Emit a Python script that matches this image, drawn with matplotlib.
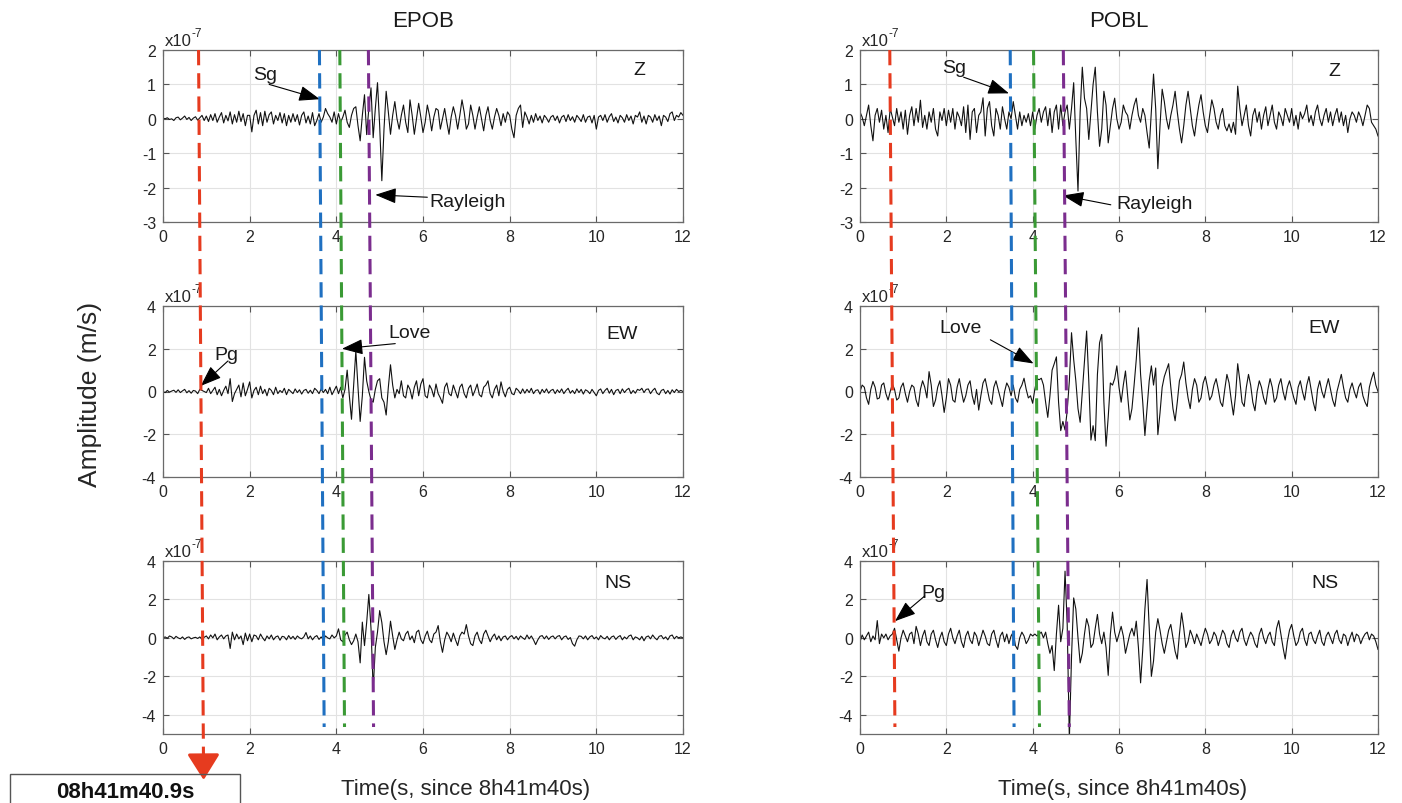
import numpy as np
import matplotlib
matplotlib.use('Agg')
from matplotlib import pyplot as plt
from matplotlib.lines import Line2D
from matplotlib.patches import Rectangle, FancyArrowPatch

plt.rcParams['font.family'] = ['Liberation Sans', 'DejaVu Sans']
plt.rcParams['axes.unicode_minus'] = False

# velocity traces, units of 1e-7 m/s, sampled every 0.05 s from 0 to 12 s
# one line per second
epob_z = [
    0.02, 0.0, 0.03, -0.02, 0.0, -0.05, 0.03, 0.05, -0.03, 0.02, 0.08, -0.02, 0.04, -0.05, 0.02, 0.06, -0.04, 0.03, 0.1, -0.05,
    0.08, -0.08, 0.12, -0.05, 0.15, -0.1, 0.05, 0.18, -0.12, 0.1, -0.06, 0.2, -0.15, 0.12, -0.1, 0.22, -0.08, 0.15, -0.2, 0.1,
    0.1, -0.38, 0.1, 0.25, -0.15, 0.18, -0.2, 0.22, -0.1, 0.12, 0.2, -0.15, 0.1, -0.05, 0.18, -0.12, 0.15, -0.2, 0.1, -0.1,
    0.15, -0.08, 0.12, -0.18, 0.1, 0.2, -0.12, 0.08, -0.15, 0.18, -0.2, -0.05, 0.15, -0.1, 0.05, 0.3, 0.15, 0.05, -0.1, 0.2,
    -0.15, 0.15, -0.1, 0.05, 0.25, -0.1, -0.25, 0.1, 0.3, 0.35, -0.2, -0.64, 0.1, 0.7, -0.46, 0.3, 0.9, -0.55, 0.3, 1.05,
    -0.2, -1.8, -0.3, 0.8, 0.2, -0.45, 0.1, 0.5, 0.0, -0.3, 0.1, 0.4, -0.1, -0.4, 0.55, 0.1, -0.45, 0.0, 0.45, 0.05,
    -0.4, -0.1, 0.4, 0.1, -0.35, 0.05, 0.3, 0.25, -0.3, 0.0, 0.3, -0.1, -0.45, 0.05, 0.35, 0.1, -0.3, 0.1, 0.55, 0.2,
    -0.3, -0.15, 0.4, 0.1, -0.3, 0.05, 0.35, 0.0, -0.35, 0.1, 0.35, -0.05, -0.3, 0.05, 0.3, 0.1, -0.2, 0.15, -0.1, 0.2,
    0.1, -0.3, -0.55, 0.1, 0.3, 0.4, -0.25, 0.2, 0.05, -0.15, 0.1, -0.1, 0.15, -0.05, 0.08, -0.12, 0.1, 0.02, -0.1, 0.05,
    0.1, -0.05, 0.08, -0.12, 0.05, 0.1, -0.08, 0.12, -0.05, 0.06, -0.1, 0.1, 0.02, -0.08, 0.12, -0.1, 0.05, 0.08, -0.12, 0.1,
    -0.3, 0.05, 0.1, -0.05, 0.12, -0.1, 0.06, 0.15, -0.08, 0.05, -0.12, 0.1, 0.03, -0.1, 0.12, -0.05, 0.08, -0.15, 0.1, 0.05,
    0.2, -0.1, 0.08, -0.15, 0.1, 0.05, -0.1, 0.12, -0.05, 0.08, -0.2, 0.1, 0.05, -0.08, 0.15, 0.2, -0.05, 0.1, 0.05, 0.18,
    0.1]

epob_ew = [
    0.0, -0.05, 0.05, -0.03, 0.02, 0.06, -0.04, 0.08, -0.05, 0.03, 0.1, -0.06, 0.04, -0.08, 0.05, 0.02, -0.1, 0.1, 0.05, 0.0,
    -0.05, 0.15, -0.1, 0.05, 0.2, -0.15, 0.1, -0.2, 0.05, 0.25, -0.1, 0.6, -0.47, -0.1, 0.1, 0.3, -0.25, 0.4, -0.2, 0.1,
    0.45, -0.3, 0.05, 0.2, -0.15, 0.25, -0.1, 0.1, -0.2, 0.15, 0.05, -0.15, 0.2, -0.1, 0.05, -0.05, 0.15, -0.15, 0.1, 0.0,
    -0.1, 0.12, -0.05, 0.08, -0.12, 0.05, 0.1, -0.08, 0.06, -0.1, 0.15, 0.05, -0.1, 0.12, -0.05, 0.1, -0.1, 0.2, -0.15, 0.05,
    0.25, -0.1, 0.2, -0.3, 0.1, 1.0, -0.2, -1.3, 0.3, 1.9, 0.2, -1.4, -0.2, 1.6, 0.5, 0.0, -0.4, -0.5, 0.1, 0.5,
    0.6, -0.3, -0.5, -1.1, 0.2, 1.25, 0.3, -0.3, 0.1, -0.1, 0.5, -0.2, -0.3, 0.3, 0.1, -0.35, 0.2, 0.5, -0.2, 0.35,
    0.6, -0.2, -0.3, 0.3, 0.1, -0.25, 0.35, -0.1, -0.3, -0.55, 0.2, 0.4, -0.1, -0.2, 0.3, 0.0, -0.3, 0.2, 0.35, -0.1,
    -0.3, 0.15, 0.3, -0.2, 0.05, 0.35, -0.15, -0.25, 0.2, 0.3, 0.5, -0.1, -0.3, 0.1, 0.3, -0.2, 0.45, 0.0, -0.25, 0.1,
    0.2, -0.1, -0.15, 0.15, 0.05, -0.1, 0.12, -0.08, 0.1, -0.05, 0.15, -0.1, 0.05, 0.08, -0.12, 0.1, -0.05, 0.12, -0.08, 0.05,
    0.1, -0.1, 0.08, -0.05, 0.12, -0.1, 0.05, 0.15, -0.08, 0.05, -0.1, 0.12, -0.05, 0.1, -0.12, 0.08, 0.02, -0.1, 0.1, -0.05,
    -0.2, 0.05, 0.12, -0.1, 0.05, 0.15, -0.08, 0.1, -0.15, 0.05, 0.1, -0.1, 0.12, -0.05, 0.08, 0.15, -0.1, 0.05, -0.08, 0.1,
    0.05, 0.15, -0.05, 0.1, 0.12, -0.1, 0.05, 0.15, -0.08, -0.15, 0.05, 0.1, -0.1, 0.05, -0.12, 0.08, -0.05, 0.1, 0.0, 0.05,
    0.0]

epob_ns = [
    0.0, 0.05, -0.02, 0.1, 0.05, -0.05, 0.08, 0.0, -0.05, 0.05, -0.08, 0.02, 0.05, -0.05, 0.0, 0.03, -0.03, 0.05, -0.08, 0.03,
    0.1, -0.05, 0.15, 0.0, 0.2, -0.1, 0.05, 0.15, -0.05, 0.1, 0.15, -0.55, 0.3, -0.1, 0.2, -0.05, 0.1, -0.35, 0.25, -0.15,
    0.2, -0.2, 0.15, 0.1, -0.1, 0.2, 0.0, -0.15, 0.1, -0.05, 0.15, -0.1, 0.05, 0.1, -0.12, 0.08, 0.05, -0.1, 0.12, -0.05,
    0.08, -0.08, 0.1, 0.0, -0.05, 0.05, 0.28, -0.05, 0.1, -0.1, 0.05, 0.12, -0.08, 0.05, -0.1, 0.1, 0.0, -0.05, 0.15, 0.0,
    0.1, 0.47, -0.1, -0.2, 0.15, 0.3, -0.1, -0.35, -0.15, 0.2, -0.2, -1.3, 0.82, -0.4, 0.8, 2.26, 0.5, -2.66, -0.5, 0.3,
    1.42, 0.8, -0.2, -0.87, -0.2, 0.87, 0.1, -0.6, -0.1, 0.3, -0.05, -0.15, 0.2, 0.35, -0.1, 0.1, -0.25, 0.3, 0.4, -0.1,
    -0.3, 0.1, 0.35, -0.1, -0.25, 0.2, 0.3, 0.64, -0.2, -0.75, -0.1, 0.3, 0.1, -0.2, 0.25, -0.1, -0.4, 0.1, 0.3, 0.2,
    0.69, 0.1, -0.3, -0.4, 0.1, 0.3, -0.1, -0.3, 0.2, 0.4, 0.1, -0.2, 0.05, 0.2, -0.1, 0.1, -0.15, 0.05, 0.1, -0.1,
    0.05, 0.12, -0.05, 0.08, -0.1, 0.1, 0.0, -0.08, 0.15, -0.05, 0.1, -0.1, -0.35, -0.1, 0.08, 0.12, -0.05, 0.1, -0.08, 0.05,
    0.1, -0.05, 0.08, 0.12, -0.1, 0.05, 0.1, -0.08, 0.02, -0.3, -0.43, -0.1, 0.1, 0.08, -0.05, 0.1, -0.1, 0.05, 0.12, -0.05,
    0.05, -0.1, 0.12, 0.0, -0.05, 0.08, -0.1, 0.05, 0.1, -0.08, 0.05, 0.12, -0.1, 0.05, -0.05, 0.1, 0.15, -0.1, 0.05, 0.0,
    -0.1, 0.08, -0.15, 0.05, 0.1, -0.05, 0.15, 0.0, -0.1, 0.08, 0.12, -0.05, 0.05, -0.1, 0.1, 0.15, -0.05, 0.08, 0.0, 0.05,
    0.0]

pobl_z = [
    0.2, 0.05, -0.2, 0.1, 0.4, -0.2, -0.64, 0.1, 0.3, -0.1, 0.25, -0.3, 0.1, -0.4, 0.3, 0.05, -0.2, 0.3, -0.1, 0.2,
    -0.3, 0.25, -0.45, 0.1, 0.35, -0.2, 0.3, -0.1, 0.54, -0.25, 0.1, -0.3, 0.2, -0.1, 0.3, -0.3, -0.5, 0.2, -0.05, 0.3,
    -0.2, 0.25, -0.1, 0.3, -0.3, 0.2, 0.05, -0.2, 0.35, -0.4, 0.4, -0.6, 0.2, 0.3, -0.4, 0.1, 0.2, 0.61, -0.5, 0.3,
    0.5, -0.2, -0.5, 0.3, 0.1, -0.3, 0.35, 0.0, -0.3, 0.2, 0.0, 0.5, 0.1, -0.3, 0.2, -0.2, 0.1, -0.1, 0.15, -0.2,
    0.2, -0.3, 0.1, 0.3, -0.1, 0.2, 0.35, -0.2, 0.3, -0.4, 0.2, 0.4, -0.3, 0.4, -0.2, 0.2, 0.4, -0.3, 0.3, 1.05,
    -0.6, -2.1, 0.2, 1.5, 0.6, 0.3, -0.6, 0.2, 1.0, 1.5, 0.2, -0.8, -0.3, 0.8, 0.4, -0.7, -0.2, 0.3, 0.6, 0.0,
    -0.3, -0.1, 0.4, 0.2, 0.1, -0.3, 0.1, 0.4, 0.6, 0.1, -0.1, 0.3, 0.1, -0.4, -0.85, 0.2, 1.3, 0.3, -1.45, -0.2,
    0.86, 0.5, 0.0, -0.3, 0.1, 0.4, 0.8, 0.2, -0.3, -0.7, -0.2, 0.4, 0.8, 0.3, -0.2, -0.5, 0.0, 0.4, 0.7, 0.2,
    -0.2, -0.4, 0.1, 0.55, 0.3, -0.1, -0.3, 0.1, 0.3, -0.2, -0.35, -0.15, -0.4, -0.1, -0.45, 0.95, 0.3, -0.2, 0.1, 0.4,
    -0.2, -0.5, 0.1, 0.3, -0.1, 0.2, -0.3, 0.1, 0.35, -0.2, 0.1, 0.4, -0.1, -0.3, 0.2, 0.05, -0.2, 0.3, 0.1, -0.1,
    0.3, -0.2, 0.1, -0.3, 0.2, 0.0, 0.15, 0.4, -0.1, 0.1, -0.2, 0.2, 0.4, 0.0, -0.2, 0.1, 0.3, -0.1, 0.2, -0.2,
    0.1, 0.3, -0.1, 0.2, -0.2, 0.1, -0.4, 0.0, 0.2, 0.1, -0.1, 0.2, 0.05, -0.2, 0.1, 0.4, 0.3, -0.1, -0.2, -0.3,
    -0.5]

pobl_ew = [
    0.0, 0.3, 0.2, -0.3, -0.6, 0.1, 0.47, 0.2, -0.35, -0.3, 0.3, 0.4, -0.1, -0.4, 0.0, 0.35, 0.1, -0.4, -0.3, 0.2,
    0.4, -0.1, -0.5, 0.0, 0.3, 0.2, -0.4, -0.7, 0.1, 0.5, 0.2, -0.3, 0.93, 0.3, -0.7, -0.4, 0.2, 0.5, -0.2, -0.98,
    -0.3, 0.6, 0.3, -0.4, -0.5, 0.2, 0.6, 0.0, -0.5, -0.2, 0.3, 0.5, -0.2, -0.6, 0.1, -0.87, -0.2, 0.4, 0.6, 0.1,
    -0.4, -0.6, 0.2, 0.5, 0.1, -0.3, -0.7, 0.0, 0.4, 0.2, -0.2, 0.3, -0.3, -0.5, 0.1, 0.3, 0.62, 0.1, -0.3, -0.2,
    -0.55, 0.1, 0.6, 0.55, 0.62, 0.3, -0.5, -1.21, -0.2, 1.0, 1.3, 1.62, -0.5, -1.83, -1.4, -1.8, -0.9, 0.5, 2.75, 1.5,
    0.5, -0.8, -1.44, 0.0, 1.5, 2.83, 0.5, -2.27, -1.6, -2.3, 0.8, 2.28, 2.67, -0.5, -2.56, -1.2, 0.4, 0.3, 0.6, 1.2,
    0.2, -0.5, 0.3, 0.96, -0.2, -1.33, -0.8, 0.3, 1.5, 2.98, 0.8, -0.5, -2.06, -0.8, 0.5, 1.2, 0.3, 1.1, -2.02, -1.0,
    0.2, 0.7, 1.0, 1.3, 0.2, -0.8, -1.37, -0.5, 0.5, 0.8, 1.38, 0.4, -0.3, -0.8, 0.1, 0.6, 0.3, -0.5, -0.3, 0.4,
    0.7, 0.2, -0.4, -0.2, 0.3, 0.6, 0.1, -0.5, -0.7, 0.1, 0.8, 0.4, -0.4, -1.1, -0.2, 1.3, 0.5, -0.5, -0.7, 0.2,
    0.8, 0.3, -0.5, -0.9, 0.0, 0.5, 0.2, -0.3, -0.6, 0.1, 0.6, 0.2, -0.5, -0.3, 0.3, 0.6, 0.0, -0.4, 0.2, 0.5,
    0.1, -0.3, -0.6, 0.2, 0.5, 0.0, -0.4, 0.3, 0.7, 0.1, -0.5, -0.9, 0.1, 0.5, 0.0, -0.3, 0.2, 0.6, 0.1, -0.4,
    -0.7, 0.0, 0.4, 0.8, 0.2, -0.3, -0.5, 0.1, 0.4, 0.0, -0.3, 0.2, 0.4, -0.2, -0.5, -0.7, 0.2, 0.6, 0.9, 0.3,
    0.0]

pobl_ns = [
    -0.2, 0.15, -0.1, 0.1, 0.3, -0.2, 0.1, -0.1, 0.9, -0.3, 0.2, 0.0, 0.2, -0.1, 0.1, 0.2, 0.5, -0.1, -0.69, 0.0,
    0.4, 0.1, -0.2, 0.2, 0.3, -0.3, 0.6, 0.2, -0.4, 0.1, 0.4, -0.2, -0.4, 0.2, 0.4, -0.1, -0.5, 0.0, 0.3, -0.2,
    -0.4, 0.2, 0.5, 0.0, -0.3, 0.1, 0.4, -0.2, -0.5, 0.1, 0.35, -0.1, -0.3, 0.3, 0.1, -0.4, 0.0, 0.4, 0.1, -0.3,
    -0.4, 0.2, 0.4, -0.1, -0.5, 0.1, 0.3, -0.2, 0.2, -0.3, 0.1, 0.3, -0.4, -0.6, 0.0, 0.3, 0.1, -0.3, -0.1, 0.2,
    0.1, 0.2, 0.1, 0.2, 0.3, 0.0, 0.3, -0.3, -0.8, -0.4, -1.7, 0.2, 1.7, -0.2, 0.5, 3.47, 0.7, -5.3, -1.0, 2.08,
    1.5, 0.0, -1.3, -0.8, 0.2, 1.0, 0.6, -0.5, -0.3, 0.5, 1.22, 0.2, -0.3, 0.3, -0.5, -1.95, 0.2, 1.34, 0.3, -0.2,
    0.2, 0.6, 0.1, -0.8, -0.3, 0.2, 0.5, 0.1, 0.87, -0.5, -2.34, -0.6, 1.5, 3.04, 0.5, -2.0, -1.2, 0.3, 1.0, 0.4,
    -0.3, -0.8, -0.2, 0.4, 0.7, 0.0, -0.7, -1.1, 0.2, 1.3, 0.5, -0.5, -0.2, 0.4, 0.1, -0.3, 0.2, -0.1, -0.4, 0.1,
    0.5, 0.2, -0.3, -0.1, 0.3, 0.1, -0.4, 0.0, 0.4, 0.2, -0.3, -0.5, 0.1, 0.4, 0.0, -0.2, 0.3, 0.5, -0.1, -0.4,
    0.0, 0.3, 0.1, -0.3, -0.5, 0.2, 0.5, 0.0, -0.3, 0.1, 0.3, -0.2, -0.4, 0.5, 0.9, 0.2, -0.5, -1.1, -0.2, 0.4,
    0.7, 0.1, -0.4, -0.2, 0.3, 0.5, -0.1, -0.4, 0.2, 0.3, -0.1, -0.3, 0.1, 0.4, -0.2, -0.4, 0.1, 0.3, 0.0, -0.3,
    0.2, 0.4, -0.1, -0.3, 0.2, 0.1, -0.4, 0.0, 0.3, -0.2, 0.2, 0.1, -0.3, 0.0, 0.2, 0.3, -0.1, 0.2, 0.1, -0.2,
    -0.6]

stations = ['EPOB', 'POBL']
components = ['Z', 'EW', 'NS']
traces = [[epob_z, epob_ew, epob_ns], [pobl_z, pobl_ew, pobl_ns]]
ylims = [(-3, 2), (-4, 4), (-5, 4)]
yticks = [[-3, -2, -1, 0, 1, 2], [-4, -2, 0, 2, 4], [-4, -2, 0, 2, 4]]

# picked arrival times (s): Pg, Sg, Love, Rayleigh, read at the top and bottom of each column
picks_top = [[0.82, 3.61, 4.08, 4.74], [0.69, 3.48, 4.02, 4.71]]
picks_bottom = [[0.93, 3.72, 4.19, 4.86], [0.81, 3.57, 4.16, 4.85]]
pick_colors = ['#e63b1f', '#1f70c1', '#3a9a35', '#7b2d8e']

# component label positions (time, amplitude)
comp_pos = [[(11.0, 1.42), (10.6, 2.71), (10.5, 2.87)],
            [(10.99, 1.41), (10.76, 3.01), (10.76, 2.87)]]

# phase annotations: (station, component, text, text pos, arrow tail, arrow tip)
phase_notes = [
    (0, 0, 'Sg', (2.36, 1.28), (2.45, 1.0), (3.62, 0.57)),
    (0, 0, 'Rayleigh', (7.02, -2.39), (6.1, -2.28), (4.9, -2.21)),
    (0, 1, 'Love', (5.68, 2.76), (5.36, 2.24), (4.13, 2.0)),
    (0, 1, 'Pg', (1.46, 1.75), (1.5, 1.43), (0.87, 0.26)),
    (1, 0, 'Sg', (2.19, 1.5), (2.4, 1.21), (3.45, 0.74)),
    (1, 0, 'Rayleigh', (6.82, -2.47), (5.81, -2.5), (4.7, -2.23)),
    (1, 1, 'Love', (2.33, 3.01), (3.02, 2.42), (4.02, 1.31)),
    (1, 2, 'Pg', (1.71, 2.35), (1.5, 2.18), (0.81, 0.87)),
]

W, H = 1402, 804
fig = plt.figure(figsize=(W / 100, H / 100), dpi=100)


def rect(x0, y0, x1, y1):
    return [x0 / W, 1 - y1 / H, (x1 - x0) / W, (y1 - y0) / H]


col_x = [(163, 683), (860, 1378)]
row_y = [(51, 223), (307, 478), (562, 735)]

axes = []
for c in range(2):
    col = []
    for r in range(3):
        ax = fig.add_axes(rect(col_x[c][0], row_y[r][0], col_x[c][1], row_y[r][1]))
        vals = np.array(traces[c][r])
        t = np.linspace(0, 12, len(vals))
        ax.plot(t, vals, color='#111111', lw=0.8)
        ax.set_xlim(0, 12)
        ax.set_ylim(*ylims[r])
        ax.set_xticks([0, 2, 4, 6, 8, 10, 12])
        ax.set_yticks(yticks[r])
        ax.grid(True, color='#e2e2e2', lw=0.8)
        ax.set_axisbelow(True)
        ax.tick_params(direction='in', top=True, right=True, length=4, labelsize=11.5,
                       colors='#555555', labelcolor='#262626', pad=5)
        for s in ax.spines.values():
            s.set_color('#6a6a6a')
            s.set_linewidth(0.9)
        # exponent label, plain hyphen like the original
        ax.annotate('x10', xy=(0, 1), xycoords='axes fraction', xytext=(1.5, 1.5),
                    textcoords='offset points', fontsize=12, color='#262626',
                    ha='left', va='bottom')
        ax.annotate('-7', xy=(0, 1), xycoords='axes fraction', xytext=(20.5, 8),
                    textcoords='offset points', fontsize=8.5, color='#262626',
                    ha='left', va='bottom')
        cx, cy = comp_pos[c][r]
        ax.text(cx, cy, components[r], fontsize=14, ha='center', va='center', color='#1a1a1a')
        col.append(ax)
    col[0].set_title(stations[c], fontsize=16, pad=17, color='#1a1a1a')
    axes.append(col)

for c, r, txt, tpos, tail, tip in phase_notes:
    ax = axes[c][r]
    ax.text(tpos[0], tpos[1], txt, fontsize=14, ha='center', va='center', color='#1a1a1a')
    ax.annotate('', xy=tip, xytext=tail,
                arrowprops=dict(arrowstyle='-|>,head_length=0.65,head_width=0.24',
                                mutation_scale=20, color='black', lw=0.8,
                                shrinkA=0, shrinkB=0))

# picked arrivals drawn across each column of panels
inv = fig.transFigure.inverted()
for c in range(2):
    ax_t, ax_b = axes[c][0], axes[c][2]
    for i in range(4):
        p0 = ax_t.transData.transform((picks_top[c][i], ax_t.get_ylim()[1]))
        p1 = ax_b.transData.transform((picks_bottom[c][i], ax_b.get_ylim()[0]))
        end_y = H - (757 if (c == 0 and i == 0) else 728)
        frac = (end_y - p0[1]) / (p1[1] - p0[1])
        end_x = p0[0] + frac * (p1[0] - p0[0])
        a = inv.transform(p0)
        b = inv.transform((end_x, end_y))
        fig.add_artist(Line2D([a[0], b[0]], [a[1], b[1]], transform=fig.transFigure,
                              color=pick_colors[i], lw=2.2, dashes=(5, 2.6),
                              solid_capstyle='butt', dash_capstyle='butt'))
        if c == 0 and i == 0:
            tip_y = H - 781
            tip_x = end_x + (tip_y - end_y) / (p1[1] - p0[1]) * (p1[0] - p0[0])
            fig.add_artist(FancyArrowPatch(
                posA=tuple(inv.transform((end_x, end_y + 2))),
                posB=tuple(inv.transform((tip_x, tip_y))),
                transform=fig.transFigure,
                arrowstyle='-|>,head_length=16,head_width=10',
                color=pick_colors[0], lw=2.2, shrinkA=0, shrinkB=0))

fig.text(90 / W, 1 - 394 / H, 'Amplitude (m/s)', rotation=90, fontsize=19,
         ha='center', va='center', color='#262626')
fig.text(466 / W, 1 - 790 / H, 'Time(s, since 8h41m40s)', fontsize=16,
         ha='center', va='center', color='#262626')
fig.text(1123 / W, 1 - 790 / H, 'Time(s, since 8h41m40s)', fontsize=16,
         ha='center', va='center', color='#262626')

fig.add_artist(Rectangle((10 / W, 1 - 815 / H), 230 / W, 40 / H, transform=fig.transFigure,
                         fill=False, edgecolor='#555555', lw=1.0))
fig.text(125 / W, 1 - 793 / H, '08h41m40.9s', fontsize=16, fontweight='bold',
         ha='center', va='center', color='#111111')

fig.savefig('out.png', dpi=100)
